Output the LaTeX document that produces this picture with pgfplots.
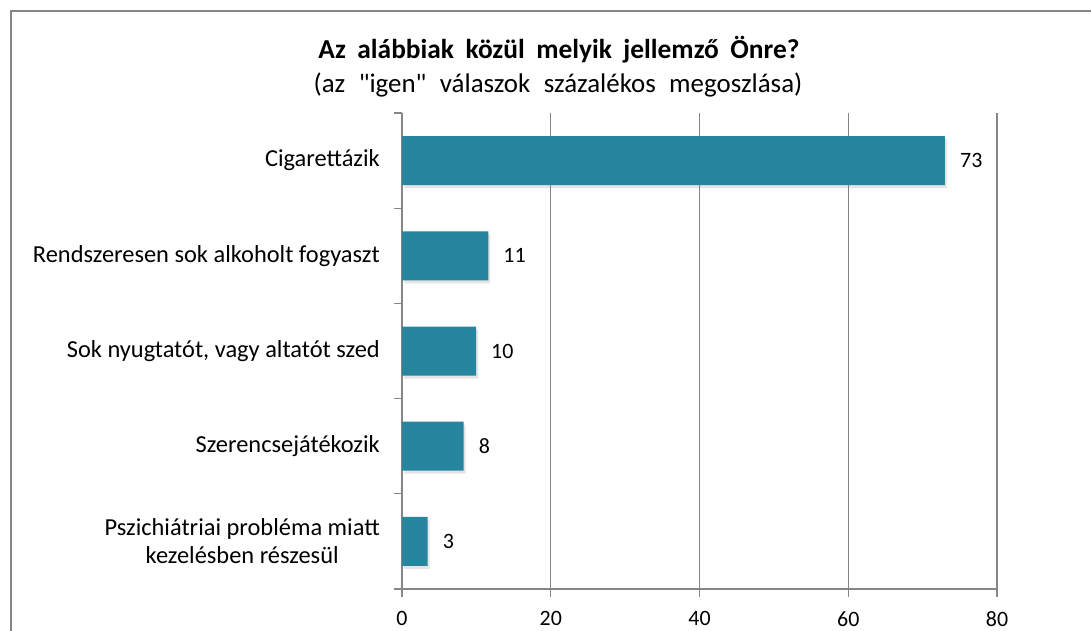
\documentclass[border=0pt]{standalone}
\usepackage{pgfplots}
\pgfplotsset{compat=1.18}
\usepackage{fontspec}
\setmainfont{Carlito}
\usetikzlibrary{shadows}
\definecolor{barc}{RGB}{40,133,160}
\definecolor{axc}{RGB}{134,134,134}
\begin{document}
\begin{tikzpicture}
\useasboundingbox (0,0) rectangle (1091bp,-631bp);
\clip (0,0) rectangle (1091bp,-631bp);
\fill[white] (0,0) rectangle (1091bp,-631bp);
\draw[axc, line width=2bp] (10.5bp,-10.5bp) rectangle (1110bp,-660bp);
\node at (559bp,-50bp) {\fontsize{27.5}{32}\selectfont\bfseries\spaceskip=0.42em Az alábbiak közül melyik jellemző Önre?};
\node at (558bp,-85bp) {\fontsize{27}{32}\selectfont\addfontfeatures{Ligatures=TeXOff}\spaceskip=0.5em (az "igen" válaszok százalékos megoszlása)};
\begin{axis}[
  at={(402bp,-589bp)}, anchor=south west,
  scale only axis, width=595bp, height=476bp,
  xbar, bar width=49bp,
  xmin=0, xmax=80, ymin=0.5, ymax=5.5, y dir=reverse,
  axis x line*=bottom, axis y line*=left,
  axis line style={axc, line width=1.3bp},
  xtick={0,20,40,60,80},
  xmajorgrids, major grid style={axc, line width=1.3bp},
  x tick style={axc, line width=1.3bp},
  xtick align=outside, major tick length=8bp,
  ytick={1,2,3,4,5},
  y tick style={draw=none},
  minor ytick={0.5,1.5,2.5,3.5,4.5,5.5},
  minor y tick style={axc, line width=1.3bp, draw=axc},
  ytick align=outside, minor tick length=8bp,
  yticklabels={Cigarettázik, Rendszeresen sok alkoholt fogyaszt, {Sok nyugtatót, vagy altatót szed}, Szerencsejátékozik, {Pszichiátriai probléma miatt\\kezelésben részesül}},
  yticklabel style={align=center, inner sep=0pt, xshift=-14bp, font=\fontsize{24.5}{28}\selectfont},
  xticklabel style={inner sep=0pt, anchor=north, yshift=-14bp, font=\fontsize{22}{26}\selectfont},
  /pgf/number format/assume math mode=true,
  point meta=explicit symbolic,
  nodes near coords,
  every node near coord/.append style={font=\fontsize{22}{26}\selectfont, black, anchor=west, inner sep=0pt, xshift=15bp},
  clip=false,
]
\addplot[fill=barc, draw=none, drop shadow={shadow xshift=2bp, shadow yshift=-3bp, opacity=0.2}] coordinates {(73,1) [73] (11.6,2) [11] (9.95,3) [10] (8.3,4) [8] (3.45,5) [3]};
\end{axis}
\end{tikzpicture}
\end{document}
